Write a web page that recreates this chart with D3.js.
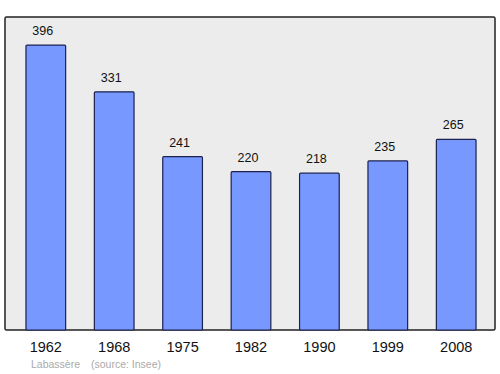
<!DOCTYPE html>
<html>
<head>
<meta charset="utf-8">
<script src="https://cdn.jsdelivr.net/npm/d3@7"></script>
<style>
  body { margin: 0; background: #fff; }
  svg { display: block; font-family: "Liberation Sans", Arial, sans-serif; }
</style>
</head>
<body>
<div class="chart"></div>
<script>
// population by census year
var years = ["1962", "1968", "1975", "1982", "1990", "1999", "2008"];
var population = [396, 331, 241, 220, 218, 235, 265];
var commune = "Labassère";
var source = "(source: Insee)";

const width = 500, height = 374;
const frame = ({ top: 17, right: 495, bottom: 330, left: 5 });

var svg = d3.select(".chart").append("svg")
    .attr("width", width)
    .attr("height", height);

var x = d3.scaleBand()
    .domain(years)
    .range([11.6, 490.4])
    .paddingInner(0.42)
    .paddingOuter(0.21);

var y = d3.scaleLinear()
    .domain([0, 435])
    .range([frame.bottom, frame.top]);

// plot background
svg.append("rect")
    .attr("x", frame.left)
    .attr("y", frame.top)
    .attr("width", frame.right - frame.left)
    .attr("height", frame.bottom - frame.top)
    .attr("rx", 1.5)
    .attr("fill", "#ececec")
    .attr("stroke", "#222")
    .attr("stroke-width", 1.5);

var data = years.map((d, i) => ({ year: d, value: population[i] }));

svg.append("g").selectAll("rect")
    .data(data)
    .join("rect")
    .attr("x", d => x(d.year))
    .attr("y", d => y(d.value))
    .attr("width", x.bandwidth())
    .attr("height", d => frame.bottom - y(d.value))
    .attr("rx", 1)
    .attr("fill", "#7799ff")
    .attr("stroke", "#1c2150")
    .attr("stroke-width", 1.2);

// value labels
svg.append("g").selectAll("text")
    .data(data)
    .join("text")
    .attr("x", d => x(d.year) + x.bandwidth() / 2 - 3)
    .attr("y", d => y(d.value) - 10)
    .attr("text-anchor", "middle")
    .attr("font-size", 12.5)
    .attr("fill", "#111")
    .text(d => d.value);

// year labels
svg.append("g").selectAll("text")
    .data(years)
    .join("text")
    .attr("x", d => x(d) + x.bandwidth() / 2)
    .attr("y", 352)
    .attr("text-anchor", "middle")
    .attr("font-size", 14.5)
    .attr("fill", "#111")
    .text(d => d);

svg.append("text")
    .attr("x", 31)
    .attr("y", 368)
    .attr("font-size", 10.5)
    .attr("fill", "#aaa")
    .text(commune);

svg.append("text")
    .attr("x", 91)
    .attr("y", 368)
    .attr("font-size", 10.5)
    .attr("fill", "#aaa")
    .text(source);
</script>
</body>
</html>
